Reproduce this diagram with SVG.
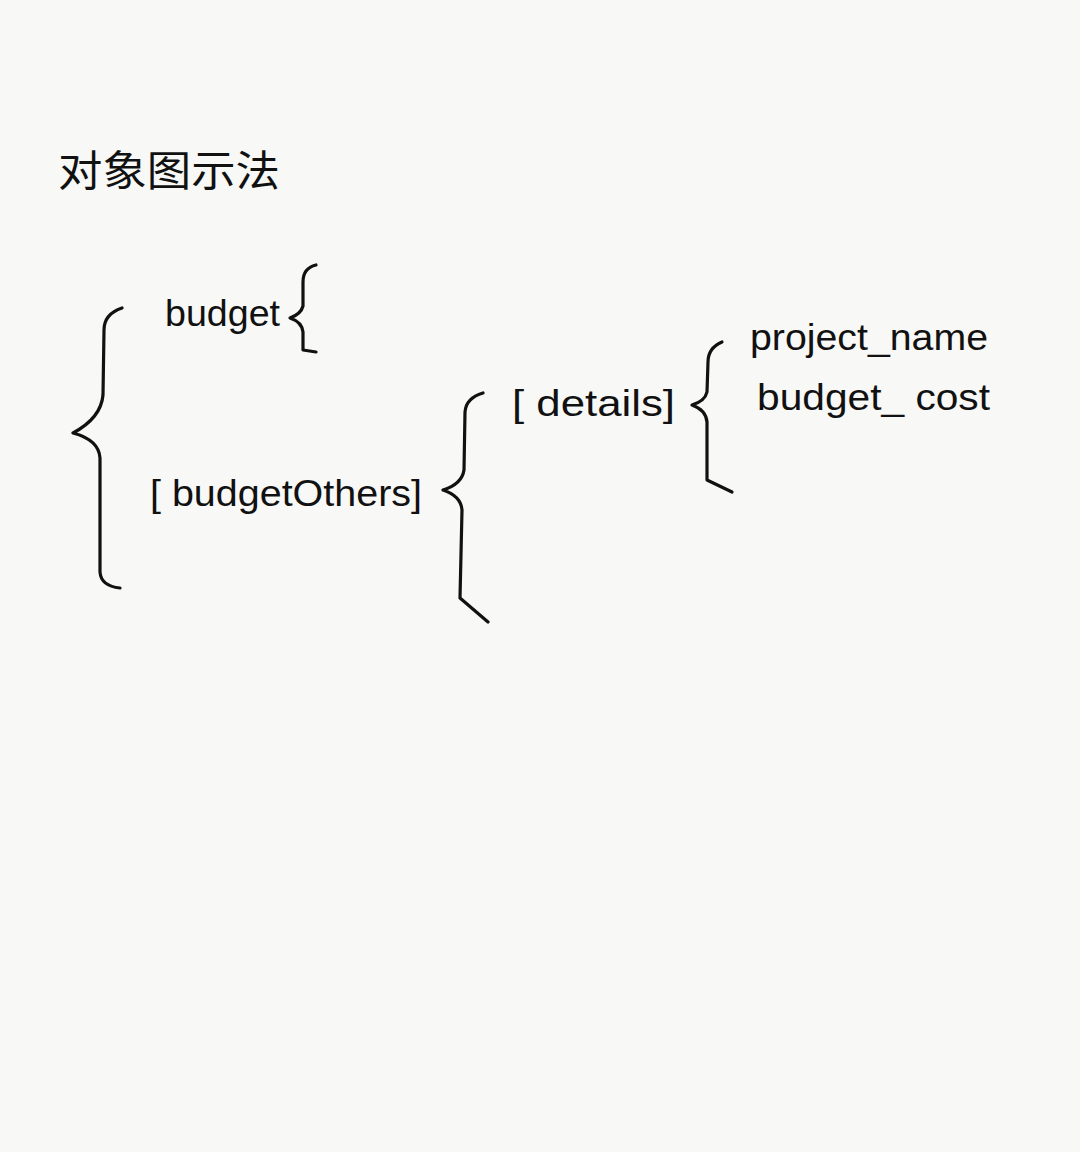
<svg xmlns="http://www.w3.org/2000/svg" width="1080" height="1152" viewBox="0 0 1080 1152">
<style>
.t{font-family:"Liberation Sans","Noto Sans CJK SC",sans-serif;fill:#111;font-size:36px}
.cn{font-family:"Noto Sans CJK SC",sans-serif;fill:#111;font-size:42px}
.br{fill:none;stroke:#111;stroke-width:3.2;stroke-linecap:round;stroke-linejoin:round}
</style>
<rect x="0" y="0" width="1080" height="1152" fill="#f8f8f6"/>
<g id="title"><text class="cn" x="58" y="186" textLength="222" lengthAdjust="spacingAndGlyphs">对象图示法</text></g>
<g id="node-budget"><text class="t" x="165" y="326" textLength="115" lengthAdjust="spacingAndGlyphs">budget</text></g>
<g id="node-budgetOthers"><text class="t" x="150" y="506" textLength="272" lengthAdjust="spacingAndGlyphs">[ budgetOthers]</text></g>
<g id="node-details"><text class="t" x="512" y="416" textLength="163" lengthAdjust="spacingAndGlyphs">[ details]</text></g>
<g id="node-project_name"><text class="t" x="750" y="350" textLength="238" lengthAdjust="spacingAndGlyphs">project_name</text></g>
<g id="node-budget_cost"><text class="t" x="757" y="410" textLength="233" lengthAdjust="spacingAndGlyphs">budget_ cost</text></g>
<g id="connectors">
<path class="br" d="M122,308 Q104,314 104,330 L103,395 Q101,418 73,433 Q99,440 100,458 L100,572 Q101,586 120,588"/>
<path class="br" d="M316,265 Q303,268 303,282 L303,306 Q301,314 290,318 Q302,322 303,332 L303,350 L316,352"/>
<path class="br" d="M483,393 Q466,398 465,412 L464,470 Q462,484 443,490 Q461,496 462,510 L460,598 L488,622"/>
<path class="br" d="M722,342 Q708,348 708,362 L707,392 Q705,401 692,405 Q706,410 707,422 L707,480 L732,492"/>
</g>
</svg>
